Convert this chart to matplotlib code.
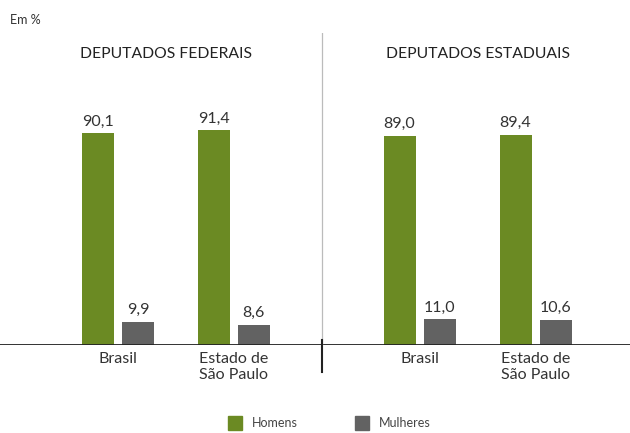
import matplotlib.pyplot as plt
from matplotlib.patches import Patch

plt.rcParams['font.family'] = ['Lato', 'DejaVu Sans']

# data
panels = ['DEPUTADOS FEDERAIS', 'DEPUTADOS ESTADUAIS']
categories = ['Brasil', 'Estado de\nSão Paulo']
homens = [[90.1, 91.4], [89.0, 89.4]]
mulheres = [[9.9, 8.6], [11.0, 10.6]]

green = '#6b8a23'
gray = '#626262'
txt = '#333333'

fig = plt.figure(figsize=(6.3, 4.33), dpi=100)
# baseline at y=345 px, top of axes at y=33 px
ax = fig.add_axes([0, (433 - 345) / 433, 1, (345 - 33) / 433])

panel_shift = 2.6
width = 0.276
off = 0.172
ticks, ticklabels = [], []
for p in range(len(panels)):
    for c, cat in enumerate(categories):
        x = 1.017 + c + p * panel_shift
        h, m = homens[p][c], mulheres[p][c]
        ax.bar(x - off, h, width, color=green)
        ax.bar(x + off, m, width, color=gray)
        ax.text(x - off, h + 2.0, f'{h:.1f}'.replace('.', ','), ha='center',
                va='bottom', fontsize=11.5, color=txt)
        ax.text(x + off, m + 2.0, f'{m:.1f}'.replace('.', ','), ha='center',
                va='bottom', fontsize=11.5, color=txt)
        ticks.append(x)
        ticklabels.append(cat)

ax.set_xlim(0, 630 / 116)
ax.set_ylim(0, 312 / 2.35)
ax.set_xticks(ticks)
ax.set_xticklabels(ticklabels, fontsize=11.5, color=txt, linespacing=1.15)
ax.tick_params(axis='x', length=0, pad=5)
ax.set_yticks([])
for s in ax.spines.values():
    s.set_visible(False)

ax.axhline(0, color='#222222', lw=1.3)
div = 322 / 116
ax.plot([div, div], [0, 312 / 2.35], color='#bbbbbb', lw=0.9)
ax.plot([div, div], [2, -11.5], color='#222222', lw=1.5, clip_on=False)

# panel titles
fig.text(166 / 630, 1 - 54 / 433, panels[0], ha='center', va='center',
         fontsize=11.3, color='#222222')
fig.text(478 / 630, 1 - 54 / 433, panels[1], ha='center', va='center',
         fontsize=11.3, color='#222222')
fig.text(10 / 630, 1 - 20 / 433, 'Em %', ha='left', va='center',
         fontsize=9, color=txt)

handles = [Patch(color=green, label='Homens'), Patch(color=gray, label='Mulheres')]
leg = fig.legend(handles=handles, loc='center', bbox_to_anchor=(0.523, 1 - 423 / 433),
                 ncol=2, frameon=False, fontsize=9, handlelength=1.1,
                 handleheight=1.4, columnspacing=4.6, handletextpad=0.8)
for t in leg.get_texts():
    t.set_color('#444444')

fig.savefig('out.png', dpi=100)
